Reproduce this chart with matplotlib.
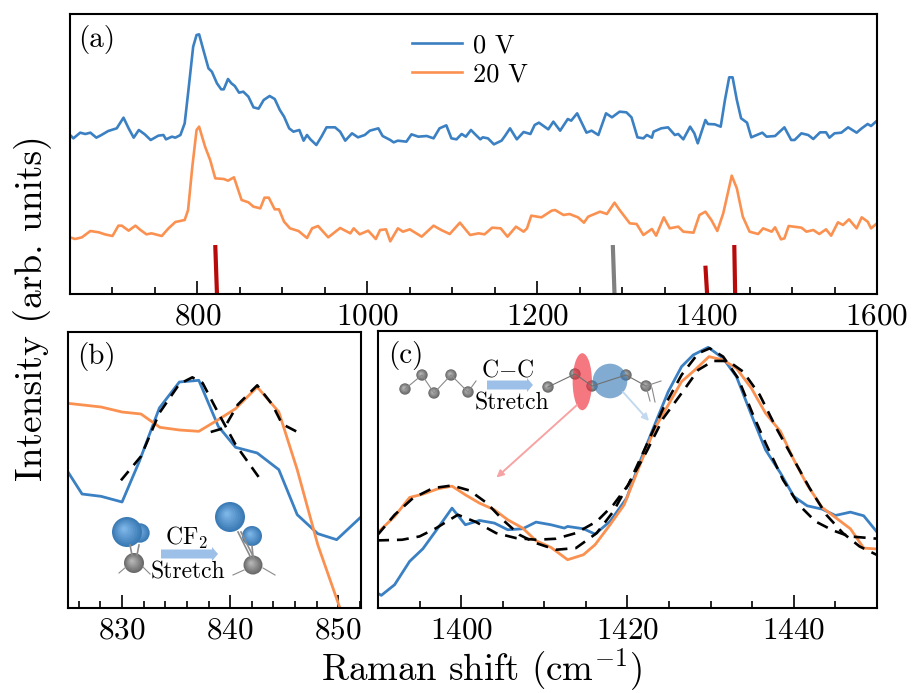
import matplotlib
matplotlib.use('Agg')
import matplotlib.pyplot as plt
from matplotlib.patches import Circle, Ellipse
from matplotlib.ticker import MultipleLocator

plt.rcParams['font.family'] = ['cmr10', 'DejaVu Serif']
plt.rcParams['mathtext.fontset'] = 'cm'
plt.rcParams['axes.unicode_minus'] = False
plt.rcParams['axes.formatter.use_mathtext'] = True

BLUE = '#3b80c2'
ORANGE = '#fb9150'
W, H = 918, 693

# Panel (a)
a_blue_x = [650, 654, 662, 668, 674, 681, 687, 695, 705, 713, 719, 725, 731, 738, 745, 754, 760, 763, 770, 774,
            780, 785, 789, 795, 799, 802, 807, 813, 817, 823, 828, 831, 836, 840, 844, 849, 854, 860, 866, 872,
            878, 885, 891, 897, 902, 908, 913, 920, 925, 929, 933, 940, 946, 952, 962, 968, 974, 982, 989, 997,
            1003, 1013, 1018, 1027, 1031, 1036, 1046, 1052, 1060, 1070, 1078, 1085, 1093, 1099, 1105, 1111, 1116,
            1122, 1127, 1133, 1136, 1142, 1149, 1158, 1162, 1168, 1176, 1184, 1192, 1197, 1202, 1213, 1219, 1227,
            1236, 1240, 1247, 1258, 1264, 1272, 1281, 1288, 1297, 1305, 1311, 1318, 1325, 1329, 1335, 1337, 1346,
            1354, 1362, 1366, 1372, 1380, 1385, 1389, 1398, 1401, 1409, 1416, 1421, 1426, 1430, 1435, 1440, 1447,
            1452, 1465, 1470, 1480, 1491, 1499, 1503, 1511, 1519, 1525, 1533, 1540, 1544, 1550, 1558, 1566, 1576,
            1582, 1589, 1593, 1600]
a_blue_y = [477, 467, 484, 480, 484, 469, 477, 489, 497, 529, 497, 469, 492, 479, 462, 475, 477, 464, 472, 469,
            477, 512, 602, 742, 777, 779, 732, 677, 667, 632, 614, 614, 645, 632, 624, 604, 607, 592, 560, 556,
            582, 594, 585, 552, 532, 497, 487, 492, 460, 477, 464, 447, 472, 500, 500, 487, 460, 482, 470, 477,
            490, 497, 474, 462, 455, 460, 457, 479, 472, 474, 467, 497, 506, 467, 464, 480, 472,
            492, 479, 464, 470, 467, 449, 460, 474, 497, 464, 486, 480, 507, 514, 494, 517, 490,
            525, 520, 542, 484, 490, 477, 542, 530, 547, 545, 530, 470, 467, 477, 469, 487, 497,
            500, 477, 480, 464, 502, 482, 452, 522, 510, 509, 502, 582, 650, 650, 582, 527, 514,
            470, 484, 472, 474, 500, 462, 462, 482, 477, 465, 485, 485, 469, 482, 484, 500, 484,
            497, 510, 504, 520]
a_orange_x = [650, 656, 664, 674, 684, 691, 700, 707, 711, 719, 727, 733, 740, 746, 758, 766, 774, 785, 789, 794,
              799, 802, 809, 815, 821, 831, 836, 843, 852, 860, 866, 874, 879, 884, 891, 896, 902, 909, 919, 929,
              935, 942, 954, 968, 980, 984, 991, 1001, 1010, 1015, 1022, 1027, 1036, 1042, 1050, 1064, 1078, 1087,
              1097, 1109, 1121, 1131, 1138, 1147, 1157, 1165, 1175, 1184, 1188, 1193, 1205, 1217, 1221, 1231, 1238,
              1248, 1255, 1260, 1274, 1282, 1291, 1297, 1309, 1317, 1325, 1335, 1340, 1349, 1356, 1366, 1372, 1384,
              1391, 1398, 1405, 1412, 1419, 1429, 1435, 1442, 1450, 1460, 1466, 1476, 1480, 1487, 1491, 1496, 1511,
              1517, 1525, 1532, 1540, 1546, 1554, 1560, 1567, 1576, 1582, 1589, 1593, 1600]
a_orange_y = [170, 165, 170, 189, 185, 179, 174, 205, 205, 190, 205, 192, 179, 182, 174, 197, 216, 222, 252, 382,
              492, 502, 442, 402, 347, 345, 340, 350, 282, 275, 262, 257, 289, 289, 254, 254, 217, 197, 189, 168,
              197, 204, 170, 198, 182, 197, 179, 190, 165, 192, 194, 158, 197, 187, 194, 172, 205, 192,
              180, 214, 177, 182, 179, 199, 197, 172, 202, 187, 197, 235, 230, 250, 252, 237, 240,
              230, 214, 232, 247, 240, 274, 252, 212, 210, 177, 195, 175, 230, 197, 202, 187, 184,
              237, 247, 222, 189, 242, 355, 317, 232, 187, 180, 197, 187, 200, 164, 167, 204, 199,
              187, 192, 180, 194, 175, 215, 207, 224, 197, 230, 217, 197, 212]
# calculated lines: wavenumber at top and foot of each stick, stick height
stick_top_x = [821, 1289, 1398, 1432]
stick_foot_x = [823, 1291, 1400, 1433]
stick_height = [147, 147, 85, 147]
stick_colors = ['#b80a0a', '#808080', '#b80a0a', '#b80a0a']

# Panel (b)
b_x = [825, 826.3, 828.06, 830, 831.6, 833.45, 835.3, 837.1, 838.9, 840.5, 842.5, 844.5, 846.2, 848.1, 849.85, 852.06]
b_blue = [408, 342, 335, 318, 440, 600, 678, 683, 545, 482, 465, 415, 280, 223, 205, 272]
b_orange_x = [825, 828.06, 830, 831.75, 833.5, 835.3, 837.1, 838.9, 840.5, 842.5, 844.5, 846.2, 848.1, 850.15]
b_orange = [614, 603, 588, 582, 542, 534, 530, 565, 598, 663, 588, 415, 190, 0]
b_fit1_x = [829.9, 831.75, 833.45, 835.3, 836.5, 837.45, 838.9, 840.5, 842.7]
b_fit1 = [383, 455, 585, 672, 692, 675, 585, 490, 390]
b_fit2_x = [838.2, 839.45, 840.7, 842.5, 843.9, 844.8, 846.4]
b_fit2 = [528, 540, 610, 668, 610, 552, 525]

# Panel (c)
c_blue_x = [1389.9, 1390.4, 1392, 1393.8, 1395.4, 1397.2, 1398.9, 1400.5, 1402.2, 1404, 1405.6, 1407.4, 1409,
            1410.8, 1412.4, 1412.8, 1414.7, 1416.1, 1417.9, 1419.9, 1421.5, 1423.1, 1424.9, 1426.5, 1427.9, 1429.7,
            1431.5, 1433.1, 1434.9, 1436.6, 1438.4, 1440, 1441.6, 1443.4, 1445, 1446.8, 1448.4, 1450.1]
c_blue = [45, 38, 70, 140, 178, 240, 300, 250, 263, 255, 235, 238, 258, 250, 240, 245, 238, 222, 260, 330, 440, 540,
          650, 725, 760, 783, 750, 695, 580, 475, 405, 335, 307, 297, 278, 288, 277, 225]
c_orange_x = [1389.9, 1392, 1393.8, 1395.4, 1397.2, 1398.9, 1400.5, 1402.2, 1404, 1405.6, 1407.4, 1409, 1410.8,
              1412.8, 1414.7, 1416.1, 1417.9, 1419.6, 1421.5, 1423.3, 1424.9, 1426.5, 1428.1, 1429.8, 1431.5, 1433.1,
              1434.9, 1436.6, 1438.4, 1440, 1441.6, 1443.4, 1445, 1446.8, 1448.4, 1450.1]
c_orange = [225, 275, 332, 342, 358, 366, 340, 315, 295, 265, 240, 202, 182, 145, 160, 190, 250, 310, 430, 540, 610,
            680, 715, 755, 745, 720, 660, 585, 530, 445, 370, 302, 272, 238, 180, 177]
c_fit1_x = [1389.9, 1392.9, 1395, 1397, 1399.6, 1401.8, 1404.2, 1406.6, 1409, 1411.4, 1413.8, 1416.3, 1418.3, 1420.1,
            1422.3, 1424.3, 1426.5, 1428.5, 1429.9, 1431.5, 1433.3, 1435.1, 1436.7, 1438.7, 1440.6, 1442.6, 1444.7,
            1446.7, 1450.1]
c_fit1 = [203, 205, 215, 240, 280, 258, 225, 210, 205, 208, 225, 260, 310, 370, 490, 600, 700, 765, 780, 755, 690,
          580, 490, 385, 310, 260, 233, 215, 208]
c_fit2_x = [1389.9, 1392, 1394.2, 1396.6, 1398.9, 1401, 1403.1, 1405, 1407, 1409, 1411.4, 1413.8, 1416.3, 1418.3,
            1420.3, 1422.3, 1424.3, 1426.5, 1428.5, 1430.3, 1432.1, 1433.9, 1435.9, 1437.9, 1439.9, 1441.9, 1443.9,
            1445.9, 1447.9, 1450.1]
c_fit2 = [218, 280, 330, 360, 368, 353, 315, 265, 220, 195, 175, 180, 225, 290, 380, 470, 570, 645, 715, 742, 742,
          710, 640, 540, 450, 360, 280, 225, 185, 158]


def make_axes(left, right, top, bottom):
    ax = fig.add_axes([left / W, 1 - bottom / H, (right - left) / W, (bottom - top) / H])
    ax.set_yticks([])
    for s in ax.spines.values():
        s.set_linewidth(1.5)
    ax.tick_params(axis='x', which='major', direction='in', length=9.5, width=1.2, labelsize=22.5, pad=6.5)
    ax.tick_params(axis='x', which='minor', direction='in', length=5, width=1.2)
    return ax


fig = plt.figure(figsize=(W / 100, H / 100), dpi=100)

ax1 = make_axes(70, 877, 14, 294)
ax1.plot(a_blue_x, a_blue_y, color=BLUE, lw=1.9, label='0 V')
ax1.plot(a_orange_x, a_orange_y, color=ORANGE, lw=1.9, label='20 V')
for i in range(len(stick_height)):
    ax1.plot([stick_top_x[i], stick_foot_x[i]], [stick_height[i], 0], color=stick_colors[i], lw=3, solid_capstyle='butt')
ax1.set_xlim(650, 1600)
ax1.set_ylim(0, 840)
ax1.xaxis.set_major_locator(MultipleLocator(200))
ax1.xaxis.set_minor_locator(MultipleLocator(50))
ax1.legend(loc='upper left', bbox_to_anchor=(0.417, 0.95), frameon=False, fontsize=19, handlelength=1.9,
           handletextpad=0.42, labelspacing=0.2, borderpad=0.2, borderaxespad=0)
ax1.text(0.01, 0.91, '(a)', transform=ax1.transAxes, fontsize=21, va='center')

ax2 = make_axes(68, 361, 332, 608)
ax2.plot(b_x, b_blue, color=BLUE, lw=2)
ax2.plot(b_orange_x, b_orange, color=ORANGE, lw=2)
ax2.plot(b_fit1_x, b_fit1, color='k', lw=1.9, dashes=(4.5, 3))
ax2.plot(b_fit2_x, b_fit2, color='k', lw=1.9, dashes=(4.5, 3))
ax2.set_xlim(825, 852.1)
ax2.set_ylim(0, 828)
ax2.xaxis.set_major_locator(MultipleLocator(10))
ax2.xaxis.set_minor_locator(MultipleLocator(2))
ax2.text(0.03, 0.91, '(b)', transform=ax2.transAxes, fontsize=21, va='center')

ax3 = make_axes(378, 877, 331, 608)
ax3.plot(c_blue_x, c_blue, color=BLUE, lw=2)
ax3.plot(c_orange_x, c_orange, color=ORANGE, lw=2)
ax3.plot(c_fit1_x, c_fit1, color='k', lw=1.9, dashes=(4.5, 3))
ax3.plot(c_fit2_x, c_fit2, color='k', lw=1.9, dashes=(4.5, 3))
ax3.set_xlim(1390, 1450)
ax3.set_ylim(0, 832)
ax3.xaxis.set_major_locator(MultipleLocator(20))
ax3.xaxis.set_minor_locator(MultipleLocator(5))
ax3.text(0.02, 0.91, '(c)', transform=ax3.transAxes, fontsize=21, va='center')

fig.text(33 / W, 1 - 308 / H, 'Intensity (arb. units)', rotation=90, ha='center', va='center', fontsize=27)
fig.text(481 / W, 1 - 670 / H, 'Raman shift (cm$^{-1}$)', ha='center', va='center', fontsize=26.5)

# overlay in pixel coordinates for the molecule sketches
ov = fig.add_axes([0, 0, 1, 1], zorder=5)
ov.set_xlim(0, W)
ov.set_ylim(H, 0)
ov.axis('off')
ov.patch.set_alpha(0)


def ball(x, y, r, base, light):
    n = 8
    c0 = matplotlib.colors.to_rgb(base)
    c1 = matplotlib.colors.to_rgb(light)
    for i in range(n):
        f = i / (n - 1)
        col = [c0[k] + (c1[k] - c0[k]) * f for k in range(3)]
        ov.add_patch(Circle((x - 0.2 * r * f, y - 0.2 * r * f), r * (1 - 0.85 * f), color=col, lw=0))


def bond(x0, y0, x1, y1, col='#8a8a8a', lw=0.8):
    ov.plot([x0, x1], [y0, y1], color=col, lw=lw)


def fat_arrow(x0, x1, y):
    ov.arrow(x0, y, x1 - x0 - 6, 0, width=9, head_width=14, head_length=6, color='#9cc0e8', lw=0,
             length_includes_head=False)


BALL_B = ('#3a7ab5', '#7db4e6')
BALL_G = ('#6a6a6a', '#b5b5b5')

# CF2 sketch
bond(119, 573, 126, 567)
bond(143, 567, 150, 574)
bond(130, 545, 132, 555, lw=1.2)
bond(139, 545, 137, 555, lw=1.2)
ball(140, 533, 9.7, *BALL_B)
ball(127, 532, 15, *BALL_B)
ball(134, 563, 10, *BALL_G)
fat_arrow(161, 218, 554)
ov.text(186, 538, 'CF$_2$', ha='center', va='center', fontsize=17)
ov.text(188, 572, 'Stretch', ha='center', va='center', fontsize=17)
bond(238, 532, 251, 558, lw=1.2)
bond(241, 532, 254, 558, lw=1.2)
bond(252, 546, 253, 556, lw=1.2)
bond(244, 570, 233, 575)
bond(263, 568, 275, 575)
ball(230, 517, 15, *BALL_B)
ball(252, 536, 10, *BALL_B)
ball(253, 565, 9.5, *BALL_G)

# C-C sketch
chain1_x = [405, 422, 434, 451, 468]
chain1_y = [389, 375, 393, 375, 392]
ov.plot(chain1_x, chain1_y, color='#8a8a8a', lw=0.8)
bond(468, 392, 476, 381)
for i in range(5):
    ball(chain1_x[i], chain1_y[i], 5.7, *BALL_G)
fat_arrow(487, 533, 385)
ov.text(508, 370, 'C$-$C', ha='center', va='center', fontsize=17)
ov.text(512, 403, 'Stretch', ha='center', va='center', fontsize=17)
chain2_x = [548, 575, 592, 626, 646]
chain2_y = [387, 374, 386, 375, 386]
ov.plot(chain2_x, chain2_y, color='#707070', lw=0.8)
bond(646, 386, 661, 381)
bond(646, 386, 650, 401)
bond(652, 388, 655, 402)
for i in range(5):
    ball(chain2_x[i], chain2_y[i], 5.7, *BALL_G)
ov.add_patch(Ellipse((582.3, 381.7), 19.3, 57, color='#f0303c', alpha=0.65, lw=0))
ov.add_patch(Circle((610, 381), 17.3, color='#3f7fbb', alpha=0.65, lw=0))
ov.annotate('', xy=(496.5, 477.5), xytext=(577, 405),
            arrowprops=dict(arrowstyle='-|>', color='#f8a3a3', lw=1.4, mutation_scale=10, shrinkA=0, shrinkB=0))
ov.annotate('', xy=(649, 421), xytext=(623, 392),
            arrowprops=dict(arrowstyle='-|>', color='#c2d9ef', lw=1.4, mutation_scale=10, shrinkA=0, shrinkB=0))

plt.savefig('out.png', dpi=100)
